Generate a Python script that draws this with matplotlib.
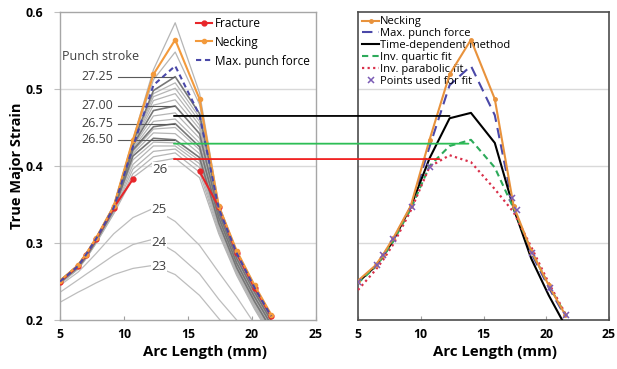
import numpy as np
import matplotlib
matplotlib.use("Agg")
import matplotlib.pyplot as plt
from matplotlib.patches import ConnectionPatch

plt.rcParams['font.family'] = ['Open Sans', 'DejaVu Sans']

# ---------------- data ----------------
arc_x = [5.0, 6.4, 7.0, 7.8, 9.2, 10.7, 12.3, 14.0, 15.9, 17.4, 18.8, 20.2, 21.5]

fracture = [0.250, 0.270, 0.284, 0.305, 0.346, 0.383, np.nan, np.nan, 0.393, 0.347, 0.287, 0.242, 0.205]
necking = [0.251, 0.271, 0.285, 0.306, 0.348, 0.434, 0.519, 0.564, 0.487, 0.348, 0.290, 0.245, 0.207]
max_punch = [0.250, 0.270, 0.284, 0.305, 0.346, 0.425, 0.505, 0.530, 0.466, 0.345, 0.287, 0.242, 0.205]

# low punch strokes (labelled)
low_strokes = ['23', '24', '25']
low_curves = [
    [0.223, 0.236, 0.241, 0.248, 0.259, 0.267, 0.271, 0.259, 0.232, 0.202, 0.175, 0.150, 0.130],
    [0.236, 0.252, 0.259, 0.268, 0.284, 0.298, 0.305, 0.288, 0.260, 0.227, 0.200, 0.175, 0.155],
    [0.245, 0.262, 0.272, 0.286, 0.312, 0.333, 0.345, 0.328, 0.297, 0.262, 0.230, 0.195, 0.170],
]
low_label_pos = [(12.75, 0.269), (12.75, 0.301), (12.75, 0.343)]

# light gray strokes between 26.0 and ~27.4
band_curves = [
    [0.247, 0.266, 0.279, 0.299, 0.338, 0.385, 0.405, 0.410, 0.385, 0.312, 0.258, 0.214, 0.178],
    [0.247, 0.266, 0.279, 0.300, 0.339, 0.390, 0.412, 0.417, 0.392, 0.315, 0.260, 0.216, 0.180],
    [0.248, 0.267, 0.280, 0.300, 0.340, 0.396, 0.419, 0.422, 0.398, 0.318, 0.262, 0.218, 0.182],
    [0.248, 0.267, 0.280, 0.301, 0.341, 0.402, 0.426, 0.426, 0.403, 0.321, 0.264, 0.220, 0.184],
    [0.248, 0.268, 0.281, 0.301, 0.342, 0.408, 0.431, 0.430, 0.407, 0.324, 0.266, 0.222, 0.186],
    [0.249, 0.268, 0.282, 0.302, 0.343, 0.416, 0.443, 0.442, 0.416, 0.329, 0.270, 0.226, 0.190],
    [0.249, 0.269, 0.282, 0.303, 0.344, 0.419, 0.448, 0.450, 0.421, 0.331, 0.272, 0.228, 0.192],
    [0.250, 0.269, 0.283, 0.303, 0.345, 0.423, 0.458, 0.461, 0.430, 0.335, 0.276, 0.232, 0.195],
    [0.250, 0.270, 0.283, 0.304, 0.345, 0.425, 0.465, 0.469, 0.436, 0.337, 0.278, 0.234, 0.197],
    [0.250, 0.270, 0.284, 0.304, 0.346, 0.428, 0.479, 0.486, 0.448, 0.341, 0.282, 0.237, 0.200],
    [0.250, 0.270, 0.284, 0.305, 0.347, 0.429, 0.485, 0.494, 0.453, 0.342, 0.283, 0.238, 0.201],
    [0.251, 0.271, 0.284, 0.305, 0.347, 0.430, 0.490, 0.501, 0.458, 0.343, 0.284, 0.239, 0.202],
    [0.251, 0.271, 0.285, 0.305, 0.347, 0.430, 0.494, 0.508, 0.463, 0.344, 0.285, 0.240, 0.203],
    [0.251, 0.271, 0.285, 0.306, 0.348, 0.433, 0.512, 0.548, 0.480, 0.347, 0.288, 0.243, 0.206],
    [0.251, 0.271, 0.285, 0.306, 0.348, 0.435, 0.525, 0.586, 0.495, 0.350, 0.290, 0.245, 0.207],
]

# darker labelled strokes
dark_strokes = ['26.50', '26.75', '27.00', '27.25']
dark_curves = [
    [0.249, 0.268, 0.281, 0.302, 0.343, 0.413, 0.436, 0.434, 0.411, 0.326, 0.268, 0.224, 0.188],
    [0.249, 0.269, 0.282, 0.303, 0.344, 0.421, 0.451, 0.455, 0.425, 0.333, 0.274, 0.230, 0.194],
    [0.250, 0.270, 0.283, 0.304, 0.346, 0.427, 0.472, 0.478, 0.442, 0.339, 0.280, 0.236, 0.199],
    [0.251, 0.271, 0.285, 0.305, 0.348, 0.431, 0.498, 0.516, 0.468, 0.345, 0.286, 0.241, 0.204],
]
dark_label_y = [0.434, 0.455, 0.478, 0.516]

# right panel
time_dependent = [0.249, 0.270, 0.283, 0.303, 0.347, 0.410, 0.462, 0.469, 0.430, 0.345, 0.280, 0.232, 0.193]
inv_quartic = [0.248, 0.269, 0.282, 0.302, 0.344, 0.400, 0.426, 0.434, 0.398, 0.345, 0.290, 0.245, 0.208]
inv_parabolic = [0.239, 0.265, 0.278, 0.298, 0.342, 0.399, 0.414, 0.405, 0.370, 0.340, 0.295, 0.248, 0.209]
fit_x = [5.0, 6.5, 7.0, 7.8, 9.3, 10.7, 17.3, 17.7, 18.9, 20.3, 21.6]
fit_y = [0.250, 0.272, 0.285, 0.305, 0.347, 0.399, 0.358, 0.343, 0.287, 0.242, 0.207]

# connectors: (y level, x in left panel, x in right panel, colour)
conn_y = [0.465, 0.429, 0.409]
conn_x_left = [13.9, 13.9, 13.9]
conn_x_right = [12.3, 13.8, 11.5]
conn_colors = ['black', '#2DBE55', '#F01E1E']

yticks = [0.2, 0.3, 0.4, 0.5, 0.6]
xticks = [5, 10, 15, 20, 25]

# ---------------- figure ----------------
fig = plt.figure(figsize=(6.17, 3.69), dpi=100)
W, H = 617, 369
ax1 = fig.add_axes([60 / W, 1 - 320 / H, 256 / W, 308 / H])
ax2 = fig.add_axes([358 / W, 1 - 320 / H, 251 / W, 308 / H])

for ax in (ax1, ax2):
    ax.set_xlim(5, 25)
    ax.set_ylim(0.2, 0.6)
    ax.set_xticks(xticks)
    ax.set_xticklabels([str(t) for t in xticks], fontsize=8.8, fontweight='bold')
    ax.set_yticks(yticks)
    for yv in [0.3, 0.4, 0.5]:
        ax.axhline(yv, color='#D9D9D9', lw=1.0, zorder=0)
    ax.tick_params(axis='x', direction='in', length=3, color='#A0A0A0', pad=6)

ax1.set_yticklabels([f'{t:.1f}' for t in yticks], fontsize=8.8, fontweight='bold')
ax1.tick_params(axis='y', direction='out', length=4, color='#BFBFBF', pad=8)
ax2.tick_params(axis='y', length=0, labelleft=False)
for s in ax1.spines.values():
    s.set_color('#A6A6A6')
    s.set_linewidth(1.0)
for s in ax2.spines.values():
    s.set_color('#4D4D4D')
    s.set_linewidth(1.2)

ax1.set_ylabel('True Major Strain', fontsize=10.5, fontweight='bold')
ax1.yaxis.set_label_coords(-43 / 256, 0.5)
ax1.yaxis.label.set_va('center')
for ax, cx in ((ax1, 0.566), (ax2, 0.546)):
    ax.set_xlabel('Arc Length (mm)', fontsize=10.8, fontweight='bold')
    ax.xaxis.set_label_coords(cx, -0.105)
    ax.xaxis.label.set_va('center')

# left panel curves
for c in low_curves:
    ax1.plot(arc_x, c, color='#BDBDBD', lw=0.9, zorder=2)
for c in band_curves:
    ax1.plot(arc_x, c, color='#B5B5B5', lw=0.9, zorder=2)
for c in dark_curves:
    ax1.plot(arc_x, c, color='#767676', lw=1.2, zorder=3)

for lab, (lx, ly) in zip(low_strokes, low_label_pos):
    ax1.text(lx, ly, lab, fontsize=9.5, color='#404040', ha='center', va='center', zorder=4,
             bbox=dict(facecolor='white', edgecolor='none', pad=0.3))
ax1.text(12.8, 0.396, '26', fontsize=9.5, color='#404040', ha='center', va='center', zorder=4,
         bbox=dict(facecolor='white', edgecolor='none', pad=0.3))

ax1.text(5.15, 0.5416, 'Punch stroke', fontsize=9, color='#404040', ha='left', va='center')
for lab, ly in zip(dark_strokes, dark_label_y):
    ax1.text(9.15, ly, lab, fontsize=9, color='#404040', ha='right', va='center')
    ax1.plot([9.5, 13.9], [ly, ly], color='#595959', lw=0.8, zorder=3)

ax1.plot(arc_x, fracture, color='#E8262A', lw=1.5, marker='o', ms=3.5, zorder=5, label='Fracture')
ax1.plot(arc_x, necking, color='#F39A3C', lw=1.5, marker='o', ms=3.0, zorder=6, label='Necking')
ax1.plot(arc_x, max_punch, color='#4A48A8', lw=1.5, ls=(0, (2.5, 1.8)), zorder=7, label='Max. punch force')

ax1.legend(loc='upper left', bbox_to_anchor=(0.512, 1.0), frameon=False, fontsize=8.5,
           handlelength=1.4, handletextpad=0.2, labelspacing=0.5, borderaxespad=0)

# right panel curves
ax2.plot(arc_x, necking, color='#E8923C', lw=1.5, marker='o', ms=2.5, zorder=6, label='Necking')
ax2.plot(arc_x, max_punch, color='#4A48A8', lw=1.5, ls=(0, (5, 3)), zorder=5, label='Max. punch force')
ax2.plot(arc_x, time_dependent, color='black', lw=1.5, zorder=5, label='Time-dependent method')
ax2.plot(arc_x, inv_quartic, color='#2DAA5A', lw=1.5, ls=(0, (3, 2)), zorder=5, label='Inv. quartic fit')
ax2.plot(arc_x, inv_parabolic, color='#D9304A', lw=1.6, ls=(0, (1, 1.5)), zorder=5, label='Inv. parabolic fit')
ax2.plot(fit_x, fit_y, ls='none', marker='x', ms=5, mew=1.1, color='#7B5CB5', zorder=7, label='Points used for fit')

ax2.legend(loc='upper left', bbox_to_anchor=(0.0, 1.0), frameon=False, fontsize=8,
           handlelength=1.45, handletextpad=0.15, labelspacing=0.08, borderaxespad=0)

# connector lines between the panels
for yv, xl, xr, col in zip(conn_y, conn_x_left, conn_x_right, conn_colors):
    cp = ConnectionPatch(xyA=(xl, yv), coordsA=ax1.transData,
                         xyB=(xr, yv), coordsB=ax2.transData,
                         color=col, lw=1.3, zorder=10)
    fig.add_artist(cp)

fig.savefig('out.png', dpi=100)
